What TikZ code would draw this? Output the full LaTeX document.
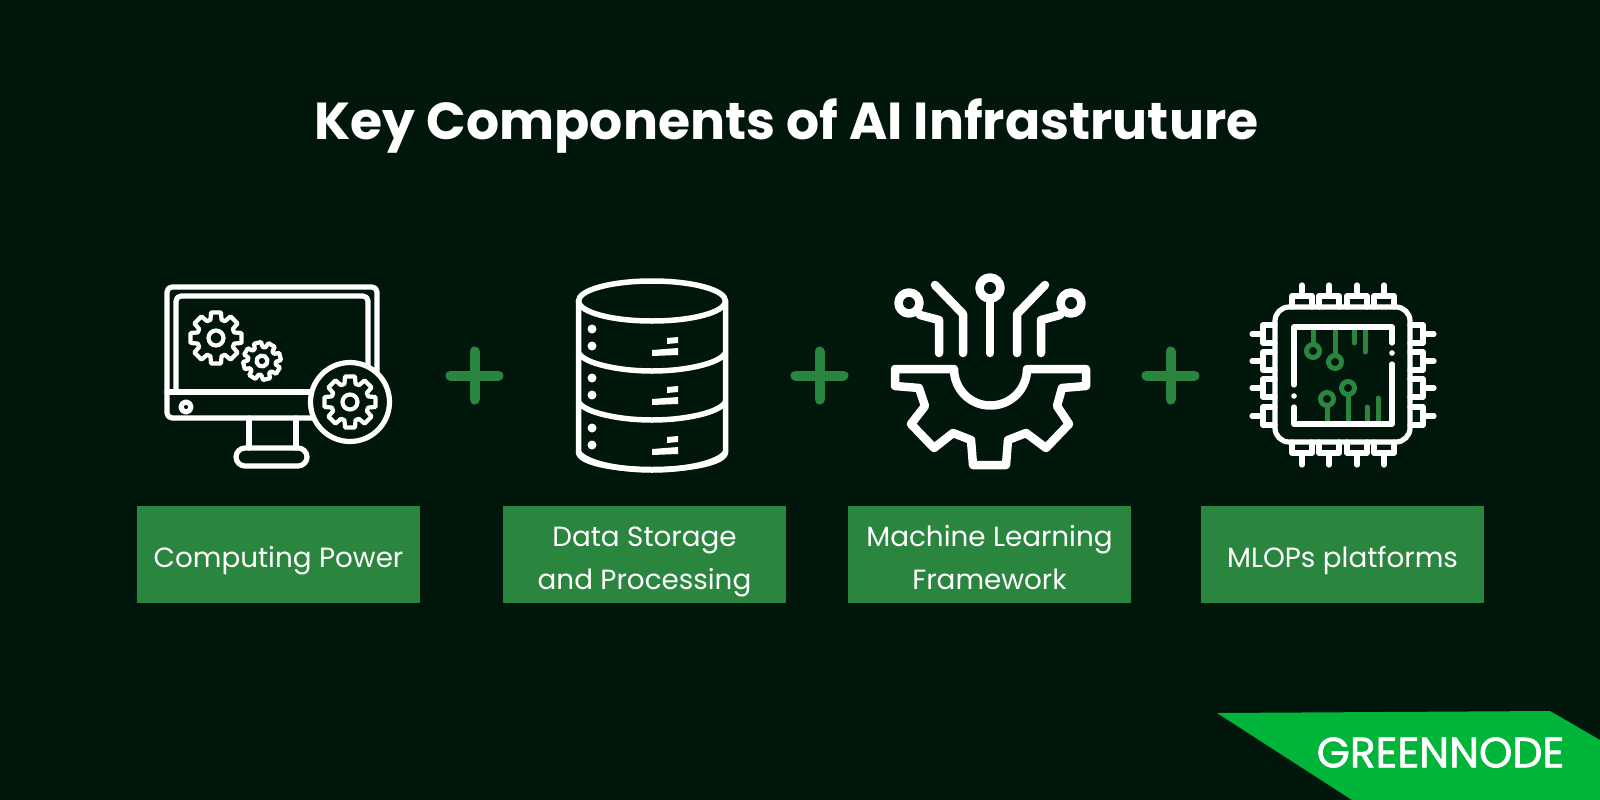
\documentclass[tikz,border=0pt]{standalone}
\usepackage{fontspec}
\setmainfont{Poppins}
\newfontfamily\logofont[FakeBold=1.6]{Poppins}
\usetikzlibrary{calc}
\definecolor{pagedark}{HTML}{01170B}
\definecolor{boxgreen}{HTML}{2A853F}
\definecolor{logogreen}{HTML}{00B53A}
\newcommand{\labelstrut}{\rule[-7pt]{0pt}{41pt}}
\tikzset{
  labelbox/.style={fill=boxgreen, text=white, minimum width=283pt, minimum height=97pt,
    inner sep=0pt, align=center, font=\fontsize{27.8}{41}\selectfont},
  iconline/.style={draw=white, line width=5.2pt, line join=round, line cap=round},
  circuitline/.style={draw=boxgreen, line width=5pt, line cap=round},
  plusline/.style={draw=boxgreen, line width=10pt, line cap=round},
}
% x, y, outer radius, root radius, hole radius, turn
\newcommand{\gearicon}[6]{
  \begin{scope}[shift={(#1,#2)}, rotate=#6]
    \draw[iconline, line width=4.2pt] (-11:#3)
    \foreach \a in {0,45,...,315}{
      -- (\a-11:#3) -- (\a+11:#3) -- (\a+17:#4) -- (\a+28:#4)
    } -- cycle;
    \draw[iconline, line width=4.2pt] (0,0) circle (#5);
  \end{scope}
}
\begin{document}
\begin{tikzpicture}[x=1pt, y=-1pt]

  \fill[pagedark] (0,0) rectangle (1600,800);
  \useasboundingbox (0,0) rectangle (1600,800);

  \node[anchor=base, text=white, font=\fontsize{52}{60}\selectfont\bfseries] (title) at (786.5,139)
  {Key Components of AI Infrastruture};

  \node[labelbox] (power) at (278.5,554.5) {\labelstrut Computing Power};
  \node[labelbox] (storage) at (644.5,554.5) {\labelstrut Data Storage\\\labelstrut and Processing};
  \node[labelbox] (framework) at (989.5,554.5) {\labelstrut Machine Learning\\\labelstrut Framework};
  \node[labelbox] (mlops) at (1342.5,554.5) {\labelstrut MLOPs platforms};

  \foreach \x in {474.5,819.5,1170.5}{
    \draw[plusline] (\x-24,375.5) -- (\x+24,375.5);
    \draw[plusline] (\x,351.5) -- (\x,399.5);
  }

  %% monitor
  \draw[iconline, rounded corners=5pt] (167,287) rectangle (377,418);
  \draw[iconline, rounded corners=5pt] (176,392) -- (176,296) -- (368,296) -- (368,392);
  \draw[iconline] (167,392) -- (377,392);
  \draw[iconline] (186,407) circle (5);
  \draw[iconline] (249,418) -- (249,448);
  \draw[iconline] (296,418) -- (296,448);
  \draw[iconline, rounded corners=9pt] (236,448) rectangle (307,466);
  \draw[iconline, fill=pagedark] (350,402) circle (39.5);
  \gearicon{216}{338}{26}{19}{7.5}{0}
  \gearicon{262}{361}{19}{14}{5.5}{14}
  \gearicon{350}{402}{26}{19}{7.5}{0}

  %% database
  \draw[iconline, line width=5.5pt] (652,301) ellipse [x radius=73.5, y radius=20];
  \draw[iconline, line width=5.5pt] (578.5,301) -- (578.5,452) .. controls (578.5,463) and (615,469.5) .. (652,469.5)
  .. controls (689,469.5) and (725.5,463) .. (725.5,452) -- (725.5,301);
  \foreach \y in {0,49,99}{
    \draw[iconline, line width=5.5pt] (578.5,353+\y) .. controls (585,364+\y) and (620,371+\y) .. (652,371+\y)
    .. controls (684,371+\y) and (719,364+\y) .. (725.5,353+\y);
    \fill[white] (592,329+\y) circle (4.5);
    \fill[white] (592,346+\y) circle (4.5);
    \fill[white] (667,338+\y) -- (678,337+\y) -- (678,343+\y) -- (667,344+\y) -- cycle;
    \fill[white] (652,350+\y) -- (678,348+\y) -- (678,355+\y) -- (652,356+\y) -- cycle;
  }

  %% circuit gear
  \begin{scope}[iconline/.append style={line width=8.5pt}]
    \draw[iconline] (909,303) circle (10.5);
    \draw[iconline] (920,315) -- (939,320) -- (939,353);
    \draw[iconline] (935,285) -- (963,314) -- (963,353);
    \draw[iconline] (990,288) circle (10.5);
    \draw[iconline] (990,299) -- (990,353);
    \draw[iconline] (1045,285) -- (1017,314) -- (1017,353);
    \draw[iconline] (1071,303) circle (10.5);
    \draw[iconline] (1060,315) -- (1041,320) -- (1041,353);
    \draw[iconline] (895,369) -- (954,369) .. controls (954,389) and (970,405.5) .. (990.3,405.5)
    .. controls (1011,405.5) and (1027,389) .. (1027,369) -- (1086,369) -- (1086,386) -- (1062,388) -- (1057,406)
    -- (1069,424) -- (1046,448) -- (1026,433) -- (1008,440) -- (1006,465) -- (973,465) -- (971,440)
    -- (953,433) -- (934,448) -- (911,424) -- (925,406) -- (919,388) -- (895,386) -- cycle;
  \end{scope}

  %% chip
  \draw[circuitline] (1313,327) -- (1313,344);
  \draw[circuitline] (1313,351) circle (6.5);
  \draw[circuitline] (1335,327) -- (1335,355);
  \draw[circuitline] (1335,362) circle (6.5);
  \draw[circuitline] (1354,327) -- (1354,343);
  \draw[circuitline] (1365,327) -- (1365,352);
  \draw[circuitline] (1327,399) circle (6.5);
  \draw[circuitline] (1327,406) -- (1327,424);
  \draw[circuitline] (1348,388) circle (6.5);
  \draw[circuitline] (1348,395) -- (1348,424);
  \draw[circuitline] (1367,424) -- (1367,407);
  \draw[circuitline] (1378,424) -- (1378,398);
  \draw[iconline, rounded corners=14pt] (1275,307) rectangle (1410,442);
  \draw[iconline] (1294,385) -- (1294,327) -- (1392,327) -- (1392,343);
  \draw[iconline] (1392,364) -- (1392,424) -- (1294,424) -- (1294,407);
  \fill[white] (1294,396) circle (2.8);
  \fill[white] (1392,353) circle (2.8);
  \foreach \x in {1302,1329,1357,1384}{
    \draw[iconline] (\x-10,307) -- (\x-10,296) -- (\x+10,296) -- (\x+10,307);
    \draw[iconline] (\x,296) -- (\x,285);
    \draw[iconline] (\x-10,442) -- (\x-10,453) -- (\x+10,453) -- (\x+10,442);
    \draw[iconline] (\x,453) -- (\x,465);
  }
  \foreach \y in {334,361,388,416}{
    \draw[iconline] (1275,\y-9) -- (1263,\y-9) -- (1263,\y+9) -- (1275,\y+9);
    \draw[iconline] (1263,\y) -- (1252,\y);
    \draw[iconline] (1410,\y-9) -- (1423,\y-9) -- (1423,\y+9) -- (1410,\y+9);
    \draw[iconline] (1423,\y) -- (1434,\y);
  }

  %% logo
  \fill[logogreen] (1217,713) -- (1550,711) -- (1600,740) -- (1600,800) -- (1352,800) -- cycle;
  \node[text=white, inner sep=0pt, font=\fontsize{42.5}{42}\logofont] (logo) at (1440.5,752.5) {GREENNODE};

\end{tikzpicture}
\end{document}
